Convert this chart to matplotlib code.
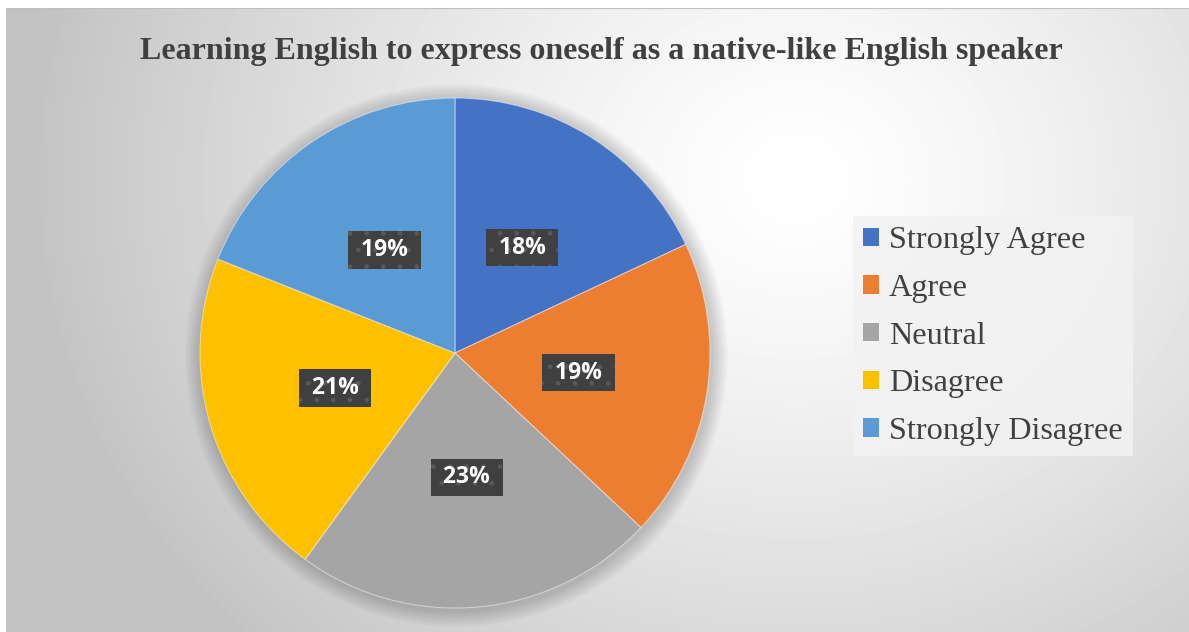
import numpy as np
import matplotlib
matplotlib.use("Agg")
import matplotlib.pyplot as plt
from matplotlib.patches import Patch, Circle

# --- data ---
categories = ["Strongly Agree", "Agree", "Neutral", "Disagree", "Strongly Disagree"]
shares = [18, 19, 23, 21, 19]
colors = ["#4472C4", "#ED7D31", "#A5A5A5", "#FFC000", "#5B9BD5"]
title = "Learning English to express oneself as a native-like English speaker"

W, H = 1189, 632
fig = plt.figure(figsize=(W / 100, H / 100), dpi=100, facecolor="white")

# radial grey background of the chart area
bg = fig.add_axes([6 / W, 0, 1 - 6 / W, 1 - 8 / H])
bg.set_axis_off()
yy, xx = np.mgrid[0:624, 0:1183]
d = np.hypot(xx - 790, (yy - 170) * 1.15) / 780
shade = 1.0 - 0.24 * np.clip(d, 0, 1) ** 1.3
bg.imshow(shade, cmap="gray", vmin=0, vmax=1, aspect="auto", interpolation="bilinear")
bg.axhline(-0.5, color="#bfbfbf", lw=1.5)

# pie
cx, cy, r = 455, H - 353, 255
m = 1.08
ax = fig.add_axes([(cx - r * m) / W, (cy - r * m) / H, 2 * m * r / W, 2 * m * r / H])
ax.set_axis_off()

# soft outer shadow
for k in range(8):
    ax.add_patch(Circle((0.005, -0.01), 1.0 + 0.008 * (k + 1), color="black",
                        alpha=0.025, lw=0, zorder=0))

wedges, _, autotexts = ax.pie(
    shares, colors=colors, startangle=90, counterclock=False, radius=1.0,
    autopct=" %d%% ", pctdistance=0.49,
    wedgeprops=dict(edgecolor=(1, 1, 1, 0.45), linewidth=0.8),
    textprops=dict(color="white", fontsize=16.5, fontweight="bold", family="Open Sans"),
)
ax.set_xlim(-m, m)
ax.set_ylim(-m, m)
for t in autotexts:
    t.set_bbox(dict(boxstyle="square,pad=0.3", fc="#404040", ec="#585858",
                    lw=0, hatch="."))

# legend
handles = [Patch(facecolor=c, edgecolor="none") for c in colors]
leg = fig.legend(handles, categories, loc="upper left",
                 bbox_to_anchor=(853 / W, 1 - 216 / H), bbox_transform=fig.transFigure,
                 borderaxespad=0, frameon=True, fancybox=False,
                 prop=dict(family="Liberation Serif", size=23.2),
                 handlelength=0.5, handleheight=0.5, handletextpad=0.3,
                 labelspacing=0.58, borderpad=0.32)
leg.get_frame().set_facecolor("#f2f2f2")
leg.get_frame().set_alpha(0.85)
leg.get_frame().set_edgecolor("none")
for t in leg.get_texts():
    t.set_color("#404040")

fig.text(601 / W, 1 - 52 / H, title, ha="center", va="center",
         family="Liberation Serif", fontweight="bold", fontsize=23, color="#404040")

fig.savefig("out.png", dpi=100, facecolor="white")
